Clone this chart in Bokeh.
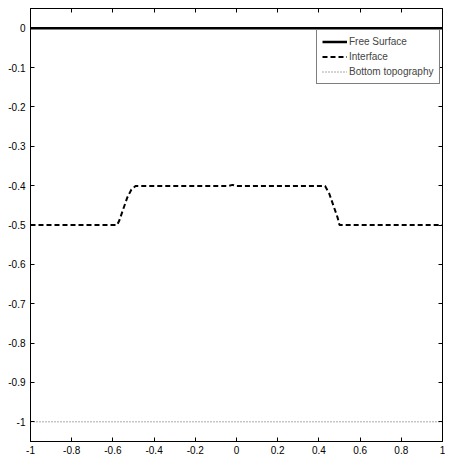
from bokeh.plotting import figure
from bokeh.models import LinearAxis, FixedTicker, Range1d
from bokeh.embed import file_html
from bokeh.resources import INLINE

# ---- data ----
free_x = [-1.0, 1.0]
free_y = [0.0, 0.0]

interface_x = [-1.0, -0.58, -0.57, -0.55, -0.53, -0.51, -0.49, -0.04, -0.02, 0.0,
               0.43, 0.45, 0.47, 0.49, 0.5, 1.0]
interface_y = [-0.5, -0.5, -0.49, -0.46, -0.43, -0.41, -0.401, -0.401, -0.398, -0.401,
               -0.401, -0.42, -0.45, -0.48, -0.5, -0.5]

bottom_x = [-1.0, 1.0]
bottom_y = [-1.0, -1.0]

xticks = [-1, -0.8, -0.6, -0.4, -0.2, 0, 0.2, 0.4, 0.6, 0.8, 1]
xtick_labels = ["-1", "-0.8", "-0.6", "-0.4", "-0.2", "0", "0.2", "0.4", "0.6", "0.8", "1"]
yticks = [0, -0.1, -0.2, -0.3, -0.4, -0.5, -0.6, -0.7, -0.8, -0.9, -1]
ytick_labels = ["0", "-0.1", "-0.2", "-0.3", "-0.4", "-0.5", "-0.6", "-0.7", "-0.8", "-0.9", "-1"]

series_labels = ["Free Surface", "Interface", "Bottom topography"]

FONT = "Liberation Sans"

p = figure(frame_width=412, frame_height=433, output_backend="svg", toolbar_location=None,
           x_range=Range1d(-1, 1), y_range=Range1d(-1.05, 0.05),
           min_border_left=30, min_border_right=3, min_border_top=8, min_border_bottom=12)
p.title.visible = False
p.title.standoff = 0
p.xgrid.visible = False
p.ygrid.visible = False
p.outline_line_color = "black"
p.outline_line_width = 1
p.background_fill_color = "white"
p.border_fill_color = "white"

p.line(free_x, free_y, line_color="black", line_width=2.5, legend_label=series_labels[0])
p.line(interface_x, interface_y, line_color="black", line_width=2, line_dash="5 3",
       legend_label=series_labels[1])
p.line(bottom_x, bottom_y, line_color="#555555", line_width=1, line_dash="1 2",
       legend_label=series_labels[2])

def style_axis(ax, ticks, labels=None):
    ax.ticker = FixedTicker(ticks=ticks)
    ax.major_tick_in = 4
    ax.major_tick_out = 0
    ax.minor_tick_in = 0
    ax.minor_tick_out = 0
    ax.axis_line_color = "black"
    ax.major_tick_line_color = "black"
    ax.axis_label_standoff = 0
    if labels is not None:
        ax.major_label_overrides = {t: l for t, l in zip(ticks, labels)}
        ax.major_label_text_font = FONT
        ax.major_label_text_font_size = "10px"
        ax.major_label_text_color = "black"
    else:
        ax.major_label_text_font_size = "0px"
        ax.major_label_standoff = 0
        ax.major_label_text_alpha = 0

style_axis(p.xaxis[0], xticks, xtick_labels)
p.xaxis[0].major_label_standoff = 4
style_axis(p.yaxis[0], yticks, ytick_labels)
p.yaxis[0].major_label_standoff = 5

top_ax = LinearAxis()
style_axis(top_ax, xticks)
p.add_layout(top_ax, "above")
right_ax = LinearAxis()
style_axis(right_ax, yticks)
p.add_layout(right_ax, "right")

lg = p.legend[0]
lg.location = (286, 357)
lg.margin = 0
lg.border_line_color = "black"
lg.border_line_width = 1
lg.background_fill_color = "white"
lg.background_fill_alpha = 1
lg.label_text_font = FONT
lg.label_text_font_size = "10px"
lg.label_height = 13
lg.glyph_height = 13
lg.glyph_width = 25
lg.label_standoff = 2
lg.spacing = 2
lg.padding = 5

open("out.html", "w").write(file_html(p, INLINE))
